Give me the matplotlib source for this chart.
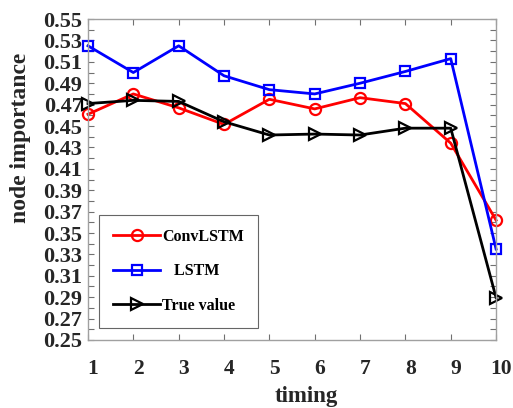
import numpy as np
import matplotlib
matplotlib.use("Agg")
from matplotlib import pyplot as plt
from matplotlib.ticker import FixedLocator
from matplotlib.transforms import ScaledTranslation

timing = [1, 2, 3, 4, 5, 6, 7, 8, 9, 10]
conv_lstm = [0.461, 0.480, 0.467, 0.4515, 0.475, 0.466, 0.4765, 0.471, 0.434, 0.362]
lstm = [0.525, 0.500, 0.525, 0.497, 0.484, 0.480, 0.490, 0.501, 0.513, 0.335]
true_value = [0.471, 0.474, 0.473, 0.454, 0.4416, 0.4425, 0.4416, 0.448, 0.448, 0.2895]

plt.rcParams['font.family'] = ['Liberation Serif', 'DejaVu Serif']
plt.rcParams['font.weight'] = 'bold'

fig = plt.figure(figsize=(5.13, 4.08), dpi=100)
ax = fig.add_axes([0.1715, 0.1667, 0.7955, 0.7866])

ax.plot(timing, conv_lstm, color='red', lw=2, marker='o', ms=8, mfc='none', mew=1.6,
        label='ConvLSTM', clip_on=False)
ax.plot(timing, lstm, color='blue', lw=2, marker='s', ms=7, mfc='none', mew=1.6,
        label='   LSTM', clip_on=False)
ax.plot(timing, true_value, color='black', lw=2, marker='>', ms=9, mfc='none', mew=1.6,
        label='True value', clip_on=False)

ax.set_xlim(1, 10)
ax.set_ylim(0.25, 0.55)
ax.set_xticks(timing)
ax.yaxis.set_major_locator(FixedLocator(np.arange(0.25, 0.5501, 0.02)))
ax.yaxis.set_minor_locator(FixedLocator(np.arange(0.26, 0.5401, 0.02)))
ax.set_yticklabels(['%.2f' % v for v in np.arange(0.25, 0.5501, 0.02)])

for s in ax.spines.values():
    s.set_color('#a0a0a0')
    s.set_linewidth(1)
ax.tick_params(which='both', direction='in', top=True, right=True, color='#707070',
               length=4, width=0.8)
ax.tick_params(axis='y', labelsize=16, pad=4)
ax.tick_params(axis='x', labelsize=15.5, pad=14)
for t in ax.get_xticklabels() + ax.get_yticklabels():
    t.set_fontweight('bold')
    t.set_color('#262626')
shift = ScaledTranslation(5 / 100, 0, fig.dpi_scale_trans)
for t in ax.get_xticklabels():
    t.set_transform(t.get_transform() + shift)

ax.set_xlabel('timing', fontsize=16.5, fontweight='bold', color='#262626')
ax.xaxis.set_label_coords(0.534, -0.143)
ax.set_ylabel('node importance', fontsize=17, fontweight='bold', color='#262626')
ax.yaxis.set_label_coords(-0.14, 0.629)

leg = ax.legend(loc='lower left', bbox_to_anchor=(0.027, 0.037), borderaxespad=0,
                fontsize=11.5, frameon=True, fancybox=False, edgecolor='#404040',
                borderpad=0.9, labelspacing=1.15, handlelength=2.9, handletextpad=0.15)
leg.get_frame().set_linewidth(0.8)
for t in leg.get_texts():
    t.set_fontweight('bold')

plt.savefig('out.png', dpi=100)
